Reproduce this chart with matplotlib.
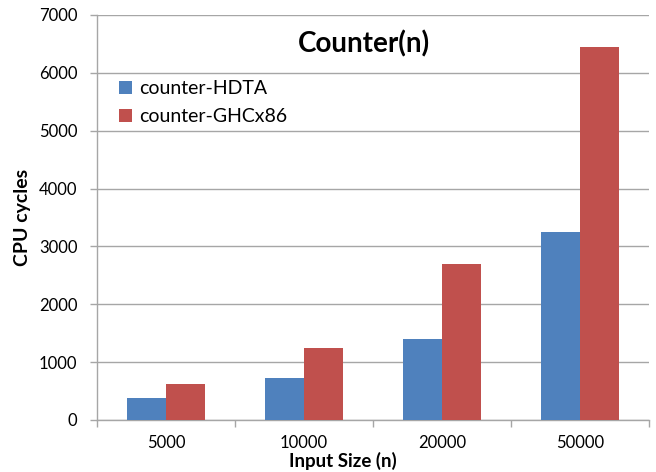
import matplotlib
matplotlib.use("Agg")
import matplotlib.pyplot as plt
import numpy as np

plt.rcParams['font.family'] = ['Lato', 'DejaVu Sans']

categories = ["5000", "10000", "20000", "50000"]
hdta = [380, 730, 1400, 3250]
ghc = [630, 1250, 2700, 6450]
series_names = ["counter-HDTA", "counter-GHCx86"]
yticks = [0, 1000, 2000, 3000, 4000, 5000, 6000, 7000]

blue = "#4F81BD"
red = "#C0504D"
grid_col = "#A6A6A6"

fig = plt.figure(figsize=(6.56, 4.72), dpi=100)
ax = fig.add_axes([97/656, 1 - 420/472, (649 - 97)/656, (420 - 15)/472])

x = np.arange(len(categories))
w = 1 / 3.5
ax.bar(x - w/2, hdta, width=w, color=blue, label=series_names[0], zorder=3)
ax.bar(x + w/2, ghc, width=w, color=red, label=series_names[1], zorder=3)

ax.set_xlim(-0.5, len(categories) - 0.5)
ax.set_ylim(0, 7000)
ax.set_yticks(yticks)
ax.set_yticklabels([str(v) for v in yticks], fontsize=12)
ax.yaxis.grid(True, color=grid_col, linewidth=1.0, zorder=0)
ax.set_axisbelow(True)

# category labels sit between boundary ticks
ax.set_xticks(np.arange(len(categories) + 1) - 0.5)
ax.set_xticklabels([])
ax.set_xticks(x, minor=True)
ax.set_xticklabels(categories, minor=True, fontsize=12)
ax.tick_params(axis='x', which='minor', length=0, pad=11)
ax.tick_params(axis='x', which='major', length=5, color=grid_col, width=1)
ax.tick_params(axis='y', length=5, color=grid_col, width=1, pad=9)

for side in ["top", "right"]:
    ax.spines[side].set_visible(False)
for side in ["left", "bottom"]:
    ax.spines[side].set_color(grid_col)
    ax.spines[side].set_linewidth(1.0)

ax.set_xlabel("Input Size (n)", fontsize=13.5, fontweight='bold')
ax.xaxis.set_label_coords(0.446, -0.08)
ax.set_ylabel("CPU cycles", fontsize=14, fontweight='bold', labelpad=6)

ax.set_title("Counter(n)", fontsize=20, fontweight='bold', x=0.484, y=0.888)

ax.legend(loc='upper left', bbox_to_anchor=(0.009, 0.882), frameon=False,
          fontsize=14, handlelength=0.67, handleheight=0.67,
          handletextpad=0.35, labelspacing=0.55)

fig.savefig("out.png", dpi=100)
